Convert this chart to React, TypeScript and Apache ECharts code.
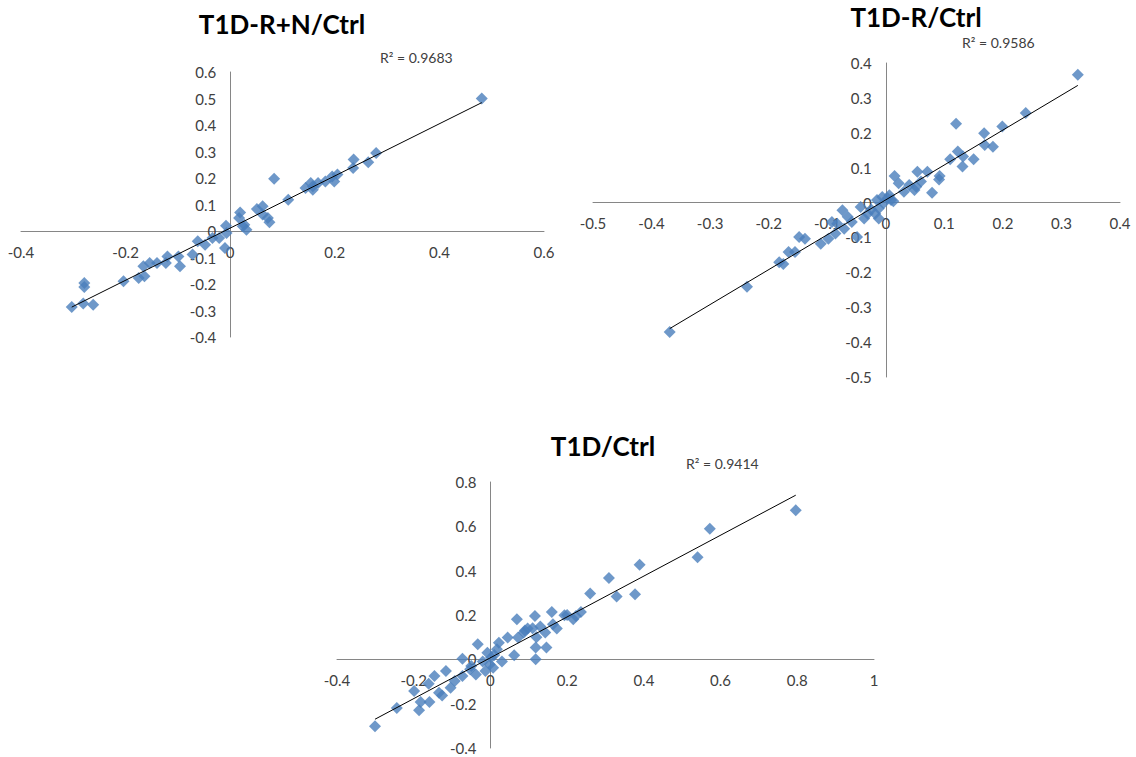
import React, { useEffect, useRef } from "react";
import * as echarts from "echarts";

// ---- Data ----
const titles = ["T1D-R+N/Ctrl", "T1D-R/Ctrl", "T1D/Ctrl"];
const r2Labels = ["R² = 0.9683", "R² = 0.9586", "R² = 0.9414"];

const x1 = [0.481, 0.279, 0.264, 0.236, 0.235, 0.205, 0.195, 0.199, 0.182, 0.168, 0.158, 0.154, 0.144, 0.158, 0.084, 0.111, 0.062, 0.051, 0.062, 0.072, 0.075, 0.019, 0.017, 0.024, 0.031, 0.027, -0.008, -0.007, -0.010, -0.021, -0.034, -0.048, -0.062, -0.072, -0.096, -0.099, -0.120, -0.123, -0.140, -0.154, -0.166, -0.164, -0.175, -0.204, -0.279, -0.279, -0.281, -0.262, -0.303];
const y1 = [0.50, 0.294, 0.259, 0.270, 0.238, 0.213, 0.206, 0.187, 0.187, 0.181, 0.169, 0.181, 0.162, 0.156, 0.197, 0.118, 0.093, 0.083, 0.062, 0.049, 0.033, 0.070, 0.049, 0.018, 0.005, 0.024, 0.020, -0.008, -0.064, -0.026, -0.026, -0.052, -0.039, -0.089, -0.133, -0.096, -0.096, -0.121, -0.121, -0.121, -0.133, -0.171, -0.177, -0.190, -0.196, -0.211, -0.274, -0.278, -0.287];

const x2 = [0.328, 0.239, 0.199, 0.120, 0.168, 0.169, 0.183, 0.123, 0.132, 0.110, 0.150, 0.131, 0.092, 0.091, 0.071, 0.054, 0.060, 0.052, 0.040, 0.049, 0.079, 0.015, 0.022, 0.031, 0.009, 0.006, -0.006, -0.015, -0.012, -0.018, -0.012, -0.031, -0.037, -0.043, -0.049, -0.058, -0.065, -0.074, -0.071, -0.083, -0.086, -0.092, -0.098, -0.111, -0.138, -0.148, -0.155, -0.166, -0.175, -0.182, -0.237, -0.369, 0.003, -0.004, 0.013, -0.025];
const y2 = [0.366, 0.257, 0.218, 0.226, 0.199, 0.165, 0.160, 0.146, 0.132, 0.124, 0.124, 0.103, 0.076, 0.066, 0.088, 0.088, 0.060, 0.045, 0.050, 0.036, 0.028, 0.076, 0.055, 0.031, 0.007, 0.021, 0.016, 0.007, -0.017, -0.032, -0.046, -0.032, -0.046, -0.013, -0.099, -0.056, -0.041, -0.022, -0.075, -0.061, -0.089, -0.056, -0.104, -0.118, -0.104, -0.099, -0.142, -0.142, -0.176, -0.171, -0.241, -0.371, 0.012, -0.002, 0.004, -0.020];

const x3 = [0.796, 0.572, 0.540, 0.389, 0.309, 0.377, 0.329, 0.260, 0.236, 0.223, 0.216, 0.193, 0.160, 0.116, 0.069, 0.173, 0.163, 0.130, 0.143, 0.097, 0.087, 0.118, 0.146, 0.118, 0.062, 0.045, 0.072, 0.022, 0.017, -0.008, 0.002, -0.002, 0.007, -0.013, -0.033, -0.038, -0.053, -0.073, -0.073, -0.093, -0.104, -0.116, -0.146, -0.161, -0.134, -0.126, -0.159, -0.199, -0.182, -0.186, -0.244, -0.301, -0.020, 0.010, 0.030, -0.050, 0.090, 0.110, 0.120, 0.200];
const y3 = [0.672, 0.589, 0.460, 0.427, 0.367, 0.294, 0.284, 0.297, 0.214, 0.196, 0.181, 0.199, 0.214, 0.196, 0.181, 0.139, 0.158, 0.148, 0.121, 0.139, 0.121, 0.053, 0.053, 0.000, 0.018, 0.098, 0.098, 0.075, 0.045, 0.030, 0.008, -0.023, -0.038, -0.053, 0.068, -0.068, -0.045, 0.003, -0.075, -0.098, -0.128, -0.053, -0.075, -0.110, -0.151, -0.163, -0.193, -0.143, -0.193, -0.230, -0.220, -0.302, -0.010, 0.020, -0.010, -0.030, 0.130, 0.140, 0.100, 0.200];

const xRanges = [[-0.4, 0.6, 0.2], [-0.5, 0.4, 0.1], [-0.4, 1, 0.2]];
const yRanges = [[-0.4, 0.6, 0.1], [-0.5, 0.4, 0.1], [-0.4, 0.8, 0.2]];

const FONT = "Lato, 'Open Sans', sans-serif";
const BLUE = "#4A7EBB";

function fit(xs: number[], ys: number[]) {
  const n = xs.length;
  let sx = 0, sy = 0, sxx = 0, sxy = 0;
  for (let i = 0; i < n; i++) {
    sx += xs[i]; sy += ys[i]; sxx += xs[i] * xs[i]; sxy += xs[i] * ys[i];
  }
  const b = (n * sxy - sx * sy) / (n * sxx - sx * sx);
  const a = (sy - b * sx) / n;
  const xmin = Math.min(...xs), xmax = Math.max(...xs);
  return [[xmin, a + b * xmin], [xmax, a + b * xmax]];
}

export default function App() {
  const ref = useRef<HTMLDivElement>(null);
  useEffect(() => {
    document.body.style.margin = "0";
    if (!ref.current) return;
    const chart = echarts.init(ref.current, undefined, { renderer: "svg" });
    const sets = [[x1, y1], [x2, y2], [x3, y3]];
    const grids = [
      { left: 21, top: 72, width: 523, height: 265 },
      { left: 593, top: 63, width: 527, height: 314 },
      { left: 337, top: 482, width: 537, height: 266 },
    ];
    const labelStyle = { color: "#404040", fontSize: 15, fontFamily: FONT };
    const axisCommon = {
      type: "value" as const,
      splitLine: { show: false },
      axisTick: { show: false },
      axisLine: { onZero: false, lineStyle: { color: "#868686", width: 1 } },
    };
    const xAxis = xRanges.map((r, i) => ({
      ...axisCommon,
      gridIndex: i,
      position: "bottom",
      offset: -(grids[i].height * (0 - yRanges[i][0])) / (yRanges[i][1] - yRanges[i][0]),
      min: r[0], max: r[1], interval: r[2],
      axisLabel: { ...labelStyle, margin: 13 },
    }));
    const yAxis = yRanges.map((r, i) => ({
      ...axisCommon,
      gridIndex: i,
      position: "left",
      offset: -(grids[i].width * (0 - xRanges[i][0])) / (xRanges[i][1] - xRanges[i][0]),
      min: r[0], max: r[1], interval: r[2],
      axisLabel: { ...labelStyle, margin: 14 },
    }));
    const series: any[] = [];
    sets.forEach(([xs, ys], i) => {
      series.push({
        type: "scatter",
        xAxisIndex: i, yAxisIndex: i,
        symbol: "diamond",
        symbolSize: 12,
        itemStyle: { color: BLUE },
        data: xs.map((x, k) => [x, ys[k]]),
        z: 2,
      });
      series.push({
        type: "line",
        xAxisIndex: i, yAxisIndex: i,
        symbol: "none",
        lineStyle: { color: "#000", width: 1 },
        data: fit(xs, ys),
        z: 3,
      });
    });
    const titlePos = [[282, 24], [916, 17], [603, 446]];
    const r2Pos = [[380, 57], [962, 42], [686, 463]];
    chart.setOption({
      animation: false,
      grid: grids,
      xAxis,
      yAxis,
      series,
      graphic: [
        ...titles.map((t, i) => ({
          type: "text",
          x: titlePos[i][0],
          y: titlePos[i][1],
          style: {
            text: t, fontFamily: FONT, fontWeight: "bold", fontSize: 26, fill: "#000",
            align: "center", verticalAlign: "middle",
          },
        })),
        ...r2Labels.map((t, i) => ({
          type: "text",
          x: r2Pos[i][0],
          y: r2Pos[i][1],
          style: { text: t, fontFamily: FONT, fontSize: 14, fill: "#404040", verticalAlign: "middle" },
        })),
      ],
    });
    return () => chart.dispose();
  }, []);
  return <div ref={ref} style={{ width: 1136, height: 757 }} />;
}
